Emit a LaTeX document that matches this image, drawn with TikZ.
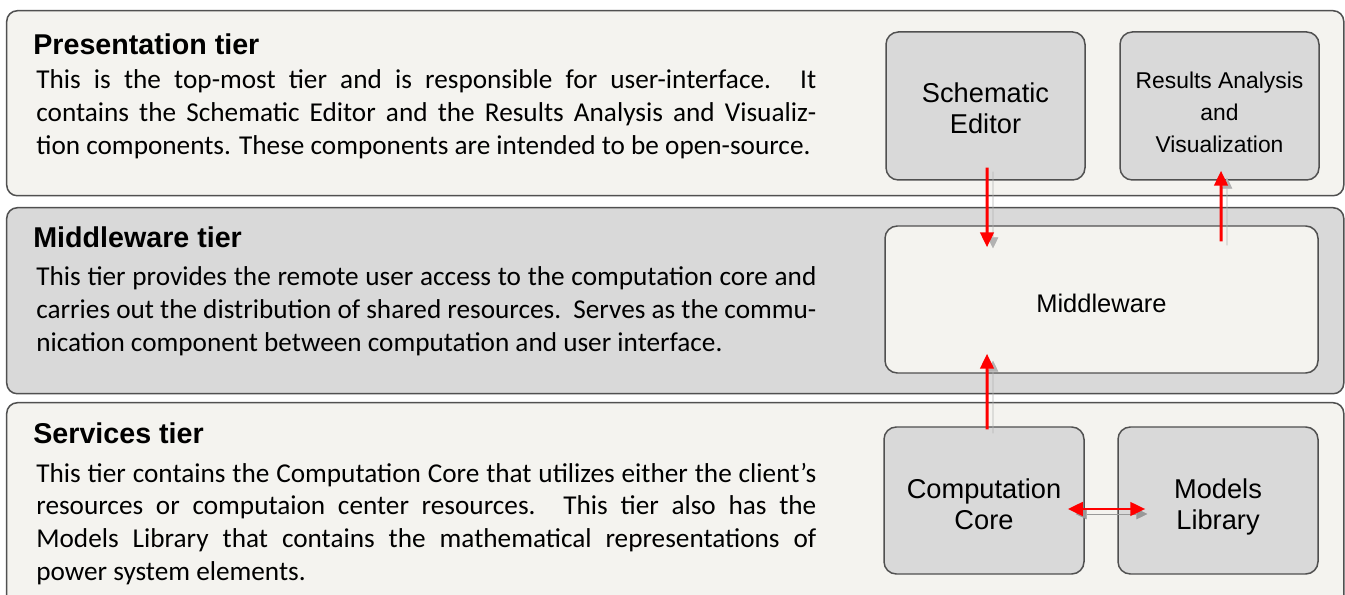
\documentclass[tikz,border=0pt]{standalone}
\usepackage{fontspec}
\setmainfont{Carlito}
\newfontfamily\arialfont{Liberation Sans}
\usepackage{tikz}
\usetikzlibrary{arrows.meta}
\definecolor{paper}{RGB}{244,243,239}
\definecolor{boxgray}{RGB}{217,217,217}
\definecolor{rim}{RGB}{80,80,80}
\definecolor{flowred}{RGB}{255,0,0}

\begin{document}
\begin{tikzpicture}[
  tier/.style={draw=rim, line width=0.85pt, rounded corners=6pt, anchor=north west,
               minimum width=26.74cm, inner sep=0pt},
  comp/.style={draw=rim, line width=0.85pt, fill=boxgray, rounded corners=7pt, align=center,
               minimum width=3.98cm, minimum height=2.96cm, inner sep=0pt,
               font=\arialfont\fontsize{15.5}{17.6}\selectfont},
  head/.style={anchor=base west, inner sep=0pt,
               font=\arialfont\bfseries\fontsize{16.3}{19}\selectfont},
  body/.style={anchor=base west, inner sep=0pt, text width=15.6cm, align=justify,
               font=\fontsize{15.5}{18.76}\selectfont,
               execute at begin node={\hyphenpenalty=10000 \tolerance=9999 \emergencystretch=2em }},
  ar/.style={-{Triangle[length=0.3cm,width=0.27cm]}, draw=flowred, line width=1.7pt,
             preaction={draw=black!30, -{Triangle[length=0.3cm,width=0.27cm]},
                        transform canvas={shift={(0.12,-0.08)}}}},
  dar/.style={{Triangle[length=0.3cm,width=0.27cm]}-{Triangle[length=0.3cm,width=0.27cm]},
              draw=flowred, line width=1.7pt,
              preaction={draw=black!40, {Triangle[length=0.3cm,width=0.27cm]}-{Triangle[length=0.3cm,width=0.27cm]},
                         transform canvas={shift={(0.1,-0.1)}}}},
]

\fill[white] (0,0) rectangle (26.9,-11.9);
\useasboundingbox (0,0) rectangle (26.9,-11.9);

\node[tier, fill=paper, minimum height=3.7cm]   (pres) at (0.12,-0.2)  {};
\node[tier, fill=boxgray, minimum height=3.72cm] (midw) at (0.12,-4.14) {};
\node[tier, fill=paper, minimum height=4.2cm]   (serv) at (0.12,-8.04) {};

\node[head] (presH) at (0.66,-1.1)  {Presentation tier};
\node[head] (midwH) at (0.66,-4.96) {Middleware tier};
\node[head] (servH) at (0.66,-8.86) {Services tier};

\node[body] (presT) at (0.72,-1.77) {This is the top-most tier and is responsible for user-interface. It\linebreak
  contains the Schematic Editor and the Results Analysis and Visualiz-\linebreak
  tion components. These components are intended to be open-source.};
\node[body] (midwT) at (0.72,-5.72) {This tier provides the remote user access to the computation core and\linebreak
  carries out the distribution of shared resources.\ \ Serves as the commu-\linebreak
  nication component between computation and user interface.};
\node[body] (servT) at (0.72,-9.64) {This tier contains the Computation Core that utilizes either the client’s\linebreak
  resources or computaion center resources. This tier also has the\linebreak
  Models Library that contains the mathematical representations of\linebreak
  power system elements.};

\node[comp, text height=31.7pt] (sched) at (19.71,-2.12) {Schematic\\Editor};
\node[comp, text height=52.7pt, font=\arialfont\fontsize{13}{18.2}\selectfont] (res) at (24.39,-2.12) {Results Analysis\\and\\Visualization};
\node[comp, fill=paper, minimum width=8.66cm, minimum height=2.94cm, text height=15.5pt,
      font=\arialfont\fontsize{14.5}{17}\selectfont] (mw) at (22.03,-5.99) {Middleware};
\node[comp, minimum width=4cm, minimum height=2.94cm, text height=33.5pt] (core) at (19.68,-10.01) {Computation\\Core};
\node[comp, minimum width=4cm, minimum height=2.94cm, text height=35.7pt] (mod)  at (24.36,-10.01) {Models\\Library};

\draw[ar] ([xshift=0.03cm,yshift=0.26cm]sched.south) -- ([xshift=-2.29cm,yshift=-0.44cm]mw.north);
\draw[ar] ([xshift=2.39cm,yshift=-0.32cm]mw.north) -- ([xshift=0.03cm,yshift=0.2cm]res.south);
\draw[ar] ([xshift=0.06cm,yshift=-0.06cm]core.north) -- ([xshift=-2.29cm,yshift=0.4cm]mw.south);
\draw[dar] ([xshift=-0.34cm,yshift=-0.17cm]core.east) -- ([xshift=0.56cm,yshift=-0.17cm]mod.west);

\end{tikzpicture}
\end{document}
